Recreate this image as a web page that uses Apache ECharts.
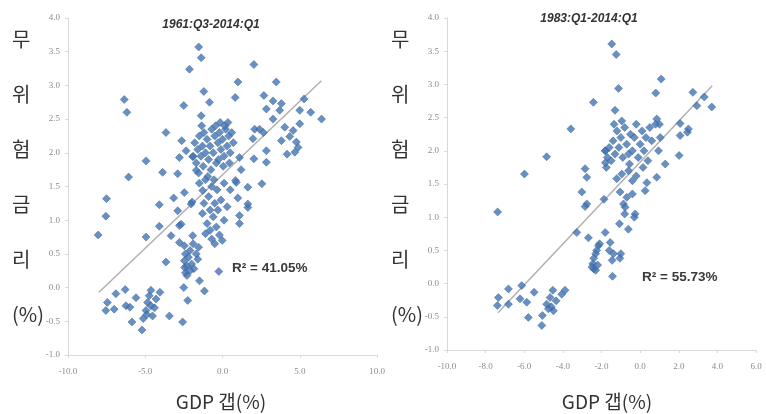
<!DOCTYPE html>
<html>
<head>
<meta charset="utf-8">
<script src="https://cdn.jsdelivr.net/npm/echarts@6/dist/echarts.min.js"></script>
<style>
  html, body { margin: 0; padding: 0; background: #fff; }
  #chart { width: 766px; height: 414px; }
</style>
</head>
<body>
<div id="chart"></div>
<script>
// 1961:Q3-2014:Q1 (GDP 갭, 무위험금리)
const pointsLong = [
  [-1.54,3.57],[-1.38,3.41],[-2.14,3.24],[2.03,3.31],[-6.36,2.79],[-6.19,2.60],[-2.51,2.70],[-1.21,2.91],
  [-0.84,2.75],[-1.38,2.55],[1.0,3.05],[0.82,2.82],[2.68,2.85],[3.48,3.05],[2.84,2.65],[3.27,2.77],
  [3.81,2.73],[3.7,2.63],[5.28,2.80],[5.0,2.63],[5.71,2.60],[6.41,2.50],[3.27,2.50],[4.03,2.38],
  [4.57,2.33],[5.0,2.43],[3.81,2.18],[4.35,2.24],[4.78,2.16],[4.89,2.08],[4.18,1.98],[4.68,2.01],
  [2.08,2.35],[2.40,2.35],[2.65,2.30],[1.97,2.21],[2.84,2.03],[2.84,1.86],[2.03,1.91],[2.55,1.54],
  [1.10,1.93],[0.89,1.56],[1.64,1.49],[-3.66,2.30],[-2.64,2.18],[-2.79,1.93],[-4.95,1.88],[-2.36,2.03],
  [-1.93,1.94],[-3.88,1.71],[-2.90,1.69],[-6.08,1.64],[-7.51,1.32],[-4.09,1.23],[-3.16,1.33],[-2.47,1.41],
  [-1.97,1.27],[-1.8,2.15],[-1.6,2.05],[-1.5,2.25],[-1.4,1.95],[-1.3,2.1],[-1.2,2.3],[-1.1,2.0],
  [-1.0,2.2],[-0.9,1.9],[-0.8,2.1],[-0.7,2.35],[-0.6,2.0],[-0.5,2.25],[-0.4,1.85],[-0.3,2.15],
  [-0.2,2.3],[-0.1,2.05],[0.0,2.2],[0.1,1.95],[0.2,2.35],[0.3,2.1],[0.4,2.25],[0.5,2.0],
  [0.6,2.3],[-1.7,1.85],[-1.55,1.7],[-1.25,1.8],[-0.95,1.65],[-0.75,1.75],[-0.45,2.4],[-0.15,2.45],
  [0.15,2.4],[0.45,1.85],[0.7,2.15],[-1.9,1.95],[-1.35,2.4],[-0.55,1.6],[-0.25,1.9],[0.05,1.8],
  [0.35,2.45],[-1.7,1.74],[-1.5,1.55],[-1.28,1.44],[-1.1,1.6],[-0.9,1.35],[-0.7,1.5],[-0.5,1.25],
  [-0.35,1.45],[-0.1,1.3],[0.1,1.55],[0.3,1.2],[-1.2,1.25],[-0.8,1.15],[-1.3,1.1],[-1.0,0.95],
  [-0.8,0.85],[-0.6,1.05],[-0.4,0.9],[-0.2,0.78],[-0.02,0.70],[-0.3,1.15],[-1.1,0.8],[-0.7,0.72],
  [0.1,1.0],[-0.5,0.65],[0.84,1.59],[0.99,1.33],[1.1,1.07],[1.1,0.95],[1.64,1.19],[1.64,1.24],
  [1.2,1.75],[0.5,1.45],[-7.55,1.06],[-8.05,0.78],[-4.95,0.75],[-4.09,0.91],[-3.33,0.77],[-2.79,0.92],
  [-2.79,0.67],[-3.66,0.38],[-2.90,1.14],[-2.03,1.24],[-2.68,0.94],[-1.93,0.77],[-2.47,0.62],[-2.4,0.5],
  [-2.47,0.4],[-2.45,0.3],[-2.4,0.22],[-2.3,0.18],[-2.2,0.45],[-2.1,0.55],[-2.0,0.35],[-1.85,0.28],
  [-1.7,0.5],[-1.6,0.42],[-1.55,0.6],[-1.9,0.65],[-2.3,0.32],[-2.1,0.25],[-2.51,0.0],[-2.25,-0.19],
  [-2.58,-0.51],[-1.49,0.10],[-1.17,-0.05],[-0.24,0.24],[-3.44,-0.42],[-7.45,-0.22],[-7.55,-0.34],[-6.90,-0.09],
  [-7.01,-0.32],[-6.30,-0.03],[-6.25,-0.27],[-5.99,-0.29],[-5.86,-0.51],[-5.60,-0.15],[-5.21,-0.63],[-5.13,-0.46],
  [-4.95,-0.34],[-4.85,-0.22],[-4.74,-0.12],[-4.63,-0.27],[-4.53,-0.42],[-4.4,-0.3],[-4.3,-0.17],[-4.05,-0.07],
  [-4.63,-0.04],[-4.9,-0.4]
];
// 1983:Q1-2014:Q1
const pointsShort = [
  [-1.47,3.61],[-1.24,3.45],[1.09,3.08],[-1.12,2.94],[0.81,2.87],[-2.42,2.73],[-1.30,2.61],[2.73,2.88],
  [2.94,2.68],[3.32,2.81],[3.71,2.66],[-3.59,2.33],[-4.84,1.91],[-5.99,1.65],[-7.38,1.08],[2.07,2.41],
  [2.5,2.33],[2.07,2.23],[2.45,2.28],[2.02,1.93],[1.04,2.2],[0.95,2.0],[0.86,2.48],[1.0,2.4],
  [-1.7,1.9],[-1.6,2.05],[-1.5,1.85],[-1.4,2.15],[-1.3,1.95],[-1.2,2.3],[-1.1,2.05],[-1.0,2.2],
  [-0.9,1.9],[-0.8,2.35],[-0.7,2.1],[-0.6,1.95],[-0.5,2.25],[-0.4,2.0],[-0.3,2.2],[-0.2,2.4],
  [-0.1,1.9],[0.0,2.1],[0.1,2.3],[0.2,2.0],[0.3,2.2],[0.4,1.85],[0.5,2.35],[0.6,2.15],
  [0.8,2.4],[-1.35,2.4],[-0.95,2.45],[-0.55,1.8],[0.15,1.75],[-1.8,2.0],[-1.75,1.75],[-1.21,1.58],
  [-0.95,1.65],[-0.6,1.7],[-0.4,1.55],[-0.2,1.62],[0.26,1.4],[0.35,1.52],[-0.4,1.35],[-1.04,1.38],
  [-0.69,1.30],[0.86,1.6],[1.3,1.8],[-2.85,1.73],[-2.76,1.6],[-3.02,1.38],[-1.81,2.0],[-1.8,1.82],
  [-2.76,1.2],[-1.87,1.27],[-0.86,1.2],[-0.78,1.15],[-0.8,1.05],[-1.07,0.9],[-0.61,0.82],[-0.26,1.05],
  [-0.3,1.0],[-3.28,0.77],[-2.68,0.69],[-1.81,0.77],[-2.85,1.16],[-2.16,0.57],[-2.25,0.5],[-2.3,0.45],
  [-2.4,0.38],[-2.45,0.3],[-2.4,0.22],[-2.3,0.2],[-2.2,0.28],[-2.1,0.6],[-2.5,0.25],[-1.55,0.62],
  [-1.38,0.45],[-1.45,0.35],[-1.0,0.45],[-1.05,0.38],[-1.43,0.11],[-1.6,0.5],[-7.34,-0.21],[-7.39,-0.33],
  [-6.82,-0.08],[-6.82,-0.31],[-6.13,-0.03],[-6.22,-0.23],[-5.87,-0.28],[-5.79,-0.51],[-5.49,-0.13],[-5.09,-0.63],
  [-5.06,-0.48],[-4.84,-0.31],[-4.66,-0.21],[-4.52,-0.10],[-4.49,-0.41],[-4.35,-0.26],[-4.06,-0.16],[-3.89,-0.10],
  [-4.6,-0.35],[-4.75,-0.38]
];
// 추세선 양 끝점
const trendLong = [[-8.0,-0.07],[6.4,3.07]];
const trendShort = [[-7.36,-0.44],[3.73,2.98]];

const periodLabels = ['1961:Q3-2014:Q1', '1983:Q1-2014:Q1'];
const r2Labels = ['R² = 41.05%', 'R² = 55.73%'];
const xLabel = 'GDP 갭(%)';
const yLabel = '무\n위\n험\n금\n리\n(%)';

const chart = echarts.init(document.getElementById('chart'));

const tickLabel = {
  color: '#8c8c8c',
  fontSize: 9,
  fontFamily: 'Liberation Serif',
  formatter: v => v.toFixed(1)
};
const axisTick = { show: true, length: 3, lineStyle: { color: '#d9d9d9' } };

function xAxis(idx, max, interval) {
  return {
    gridIndex: idx, type: 'value', min: -10, max: max, interval: interval,
    axisLine: { onZero: false, lineStyle: { color: '#d9d9d9' } },
    axisTick: axisTick, splitLine: { show: false },
    axisLabel: Object.assign({ margin: 12 }, tickLabel)
  };
}
function yAxis(idx) {
  return {
    gridIndex: idx, type: 'value', min: -1, max: 4, interval: 0.5,
    axisLine: { show: true, onZero: false, lineStyle: { color: '#d9d9d9' } },
    axisTick: axisTick, splitLine: { show: false },
    axisLabel: Object.assign({ margin: 8 }, tickLabel)
  };
}
function scatter(idx, data) {
  return {
    type: 'scatter', xAxisIndex: idx, yAxisIndex: idx, data: data,
    symbol: 'diamond', symbolSize: 8,
    itemStyle: { color: '#4274b3', borderColor: '#365f92', borderWidth: 0.6 }
  };
}
function trend(idx, data) {
  return {
    type: 'line', xAxisIndex: idx, yAxisIndex: idx, data: data,
    symbol: 'none', silent: true, z: 1,
    lineStyle: { color: '#b0b0b0', width: 1.5 }
  };
}
function txt(x, y, text, style) {
  return { type: 'text', x: x, y: y, style: Object.assign({ text: text, fill: '#333' }, style) };
}

const titleStyle = { font: 'italic bold 12px "Liberation Sans Narrow", "Liberation Sans"', textAlign: 'center', textVerticalAlign: 'middle' };
const r2Style = { font: 'bold 13.5px "Liberation Sans Narrow", "Liberation Sans"', textAlign: 'left', textVerticalAlign: 'middle', fill: '#3a3a3a' };
const yNameStyle = { font: '20px "Noto Sans CJK KR"', lineHeight: 55, textAlign: 'left', textVerticalAlign: 'top', fill: '#333' };
const xNameStyle = { font: '19px "Noto Sans CJK KR"', textAlign: 'center', textVerticalAlign: 'middle', fill: '#333' };

chart.setOption({
  animation: false,
  grid: [
    { left: 68, top: 18, width: 309, height: 337 },
    { left: 447, top: 18, width: 309, height: 332 }
  ],
  xAxis: [xAxis(0, 10, 5), xAxis(1, 6, 2)],
  yAxis: [yAxis(0), yAxis(1)],
  series: [
    trend(0, trendLong), scatter(0, pointsLong),
    trend(1, trendShort), scatter(1, pointsShort)
  ],
  graphic: [
    txt(211, 25, periodLabels[0], titleStyle),
    txt(589, 19, periodLabels[1], titleStyle),
    txt(232, 268, r2Labels[0], r2Style),
    txt(642, 277, r2Labels[1], r2Style),
    txt(12, 12, yLabel, yNameStyle),
    txt(391, 12, yLabel, yNameStyle),
    txt(221, 402, xLabel, xNameStyle),
    txt(607, 402, xLabel, xNameStyle)
  ]
});
</script>
</body>
</html>
